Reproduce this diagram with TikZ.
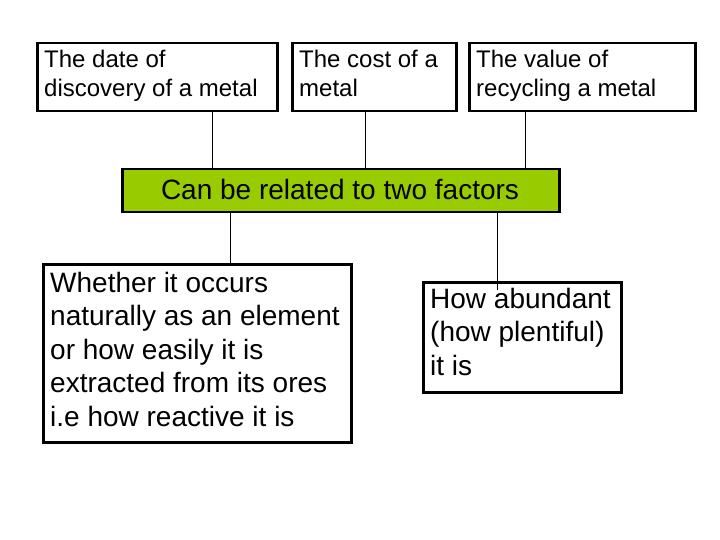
\documentclass[tikz,border=0pt]{standalone}
\usepackage{fontspec}
\setmainfont{Liberation Sans}
\begin{document}
\begin{tikzpicture}[x=1pt,y=-1pt,
  box/.style={draw=black,line width=2.5pt,fill=white,anchor=north west,inner sep=0pt,align=left},
  small/.style={font=\fontsize{24}{29}\selectfont},
  big/.style={font=\fontsize{28}{33.5}\selectfont},
  link/.style={draw=black,line width=0.6pt}]
\useasboundingbox (0,0) rectangle (720,540);
\node[box,minimum width=240,minimum height=68] (a) at (36,42) {};
\node[small,anchor=north west,align=left,inner sep=0pt] (at) at (44,50) {The date of\\discovery of a metal};
\node[box,minimum width=164,minimum height=68] (b) at (291,42) {};
\node[small,anchor=north west,align=left,inner sep=0pt] (bt) at (299,50) {The cost of a\\metal};
\node[box,minimum width=226,minimum height=68] (c) at (468,42) {};
\node[small,anchor=north west,align=left,inner sep=0pt] (ct) at (476,50) {The value of\\recycling a metal};
\node[box,fill={rgb,255:red,153;green,204;blue,0},minimum width=437,minimum height=43] (g) at (121,168) {};
\node[big,inner sep=0pt] (gt) at (340,189) {Can be related to two factors};
\node[box,minimum width=308,minimum height=178] (d) at (42,263) {};
\node[big,anchor=north west,align=left,inner sep=0pt] (dt) at (50,272) {Whether it occurs\\naturally as an element\\or how easily it is\\extracted from its ores\\i.e how reactive it is};
\node[box,minimum width=198,minimum height=110] (e) at (422,281) {};
\node[big,anchor=north west,align=left,inner sep=0pt] (et) at (430,288) {How abundant\\(how plentiful)\\it is};
\draw[link] (a.south -| 212,0) -- (g.north -| 212,0);
\draw[link] (b.south -| 365,0) -- (g.north -| 365,0);
\draw[link] (c.south -| 525,0) -- (g.north -| 525,0);
\draw[link] (g.south -| 230,0) -- (d.north -| 230,0);
\draw[link] (g.south -| 497,0) -- (497,290);
\end{tikzpicture}
\end{document}
